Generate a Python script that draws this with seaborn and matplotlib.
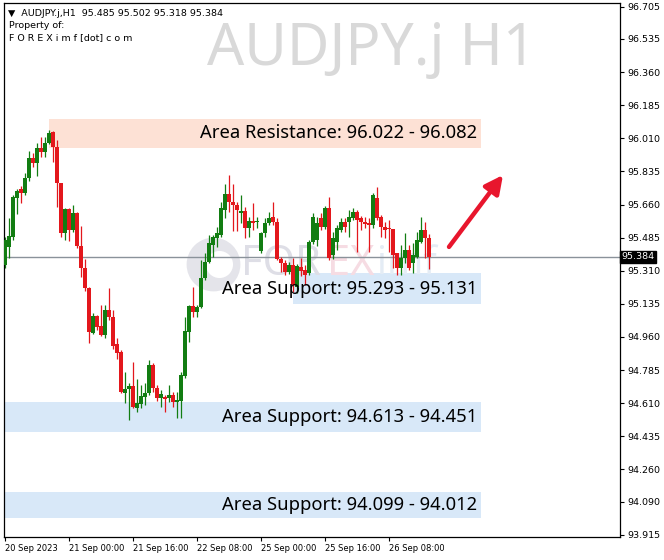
"""
AUDJPY.j H1 — velas con zonas de soporte / resistencia
"""

import numpy as np
import matplotlib
matplotlib.use("Agg")
import matplotlib.pyplot as plt
import seaborn as sns


# ─────────────────────────────────────────────
# DATOS
# ─────────────────────────────────────────────
APERTURA = [
    95.340, 95.436, 95.488, 95.694, 95.742, 95.721, 95.800, 95.906, 95.879, 95.959,
    95.937, 95.985, 96.043, 95.964, 95.774, 95.509, 95.636, 95.525, 95.615, 95.441,
    95.325, 95.219, 94.981, 95.071, 95.018, 94.971, 95.103, 95.066, 94.923, 94.881,
    94.664, 94.685, 94.701, 94.585, 94.606, 94.643, 94.664, 94.812, 94.691, 94.638,
    94.643, 94.638, 94.654, 94.617, 94.622, 94.754, 94.986, 95.124, 95.092, 95.119,
    95.272, 95.356, 95.446, 95.483, 95.499, 95.631, 95.716, 95.673, 95.657, 95.615,
    95.626, 95.536, 95.573, 95.568, 95.414, 95.509, 95.562, 95.594, 95.568, 95.372,
    95.351, 95.303, 95.340, 95.224, 95.330, 95.314, 95.298, 95.462, 95.472, 95.589,
    95.541, 95.642, 95.393, 95.462, 95.525, 95.568, 95.568, 95.589, 95.620, 95.589,
    95.568, 95.562, 95.552, 95.694, 95.594, 95.541, 95.536, 95.531, 95.404, 95.325,
    95.377, 95.420, 95.351, 95.383, 95.462, 95.525, 95.485,
]
MAXIMO = [
    95.488, 95.589, 95.710, 95.742, 95.758, 95.826, 95.943, 95.932, 95.985, 96.017,
    96.017, 96.054, 96.048, 96.001, 95.776, 95.642, 95.642, 95.657, 95.620, 95.546,
    95.372, 95.224, 95.087, 95.076, 95.129, 95.129, 95.219, 95.103, 94.955, 94.891,
    94.775, 94.717, 94.828, 94.738, 94.706, 94.717, 94.839, 94.823, 94.706, 94.680,
    94.654, 94.706, 94.669, 94.669, 94.775, 95.066, 95.129, 95.224, 95.129, 95.367,
    95.404, 95.499, 95.499, 95.541, 95.673, 95.768, 95.816, 95.768, 95.673, 95.710,
    95.647, 95.594, 95.668, 95.594, 95.515, 95.589, 95.620, 95.673, 95.589, 95.383,
    95.367, 95.356, 95.377, 95.346, 95.377, 95.340, 95.472, 95.615, 95.594, 95.615,
    95.652, 95.700, 95.515, 95.552, 95.589, 95.589, 95.631, 95.642, 95.631, 95.599,
    95.594, 95.589, 95.721, 95.752, 95.605, 95.568, 95.578, 95.531, 95.404, 95.446,
    95.509, 95.446, 95.457, 95.515, 95.594, 95.568, 95.502,
]
MINIMO = [
    95.325, 95.377, 95.472, 95.610, 95.668, 95.710, 95.784, 95.858, 95.811, 95.911,
    95.911, 95.980, 95.885, 95.647, 95.488, 95.472, 95.467, 95.515, 95.430, 95.277,
    95.203, 94.928, 94.976, 94.997, 94.965, 94.955, 95.050, 94.897, 94.844, 94.664,
    94.611, 94.522, 94.585, 94.564, 94.585, 94.601, 94.654, 94.669, 94.622, 94.590,
    94.564, 94.617, 94.590, 94.532, 94.532, 94.743, 94.934, 95.066, 95.066, 95.113,
    95.261, 95.351, 95.383, 95.436, 95.488, 95.589, 95.620, 95.520, 95.520, 95.562,
    95.483, 95.488, 95.525, 95.536, 95.404, 95.488, 95.552, 95.552, 95.367, 95.303,
    95.288, 95.293, 95.198, 95.192, 95.282, 95.235, 95.288, 95.451, 95.441, 95.525,
    95.531, 95.367, 95.372, 95.420, 95.515, 95.515, 95.488, 95.578, 95.409, 95.525,
    95.536, 95.409, 95.536, 95.578, 95.488, 95.483, 95.409, 95.325, 95.288, 95.288,
    95.351, 95.314, 95.298, 95.377, 95.457, 95.377, 95.318,
]
CIERRE = [
    95.472, 95.494, 95.700, 95.731, 95.721, 95.800, 95.906, 95.879, 95.959, 95.937,
    95.985, 96.038, 95.964, 95.774, 95.509, 95.636, 95.525, 95.615, 95.441, 95.325,
    95.219, 94.986, 95.071, 95.013, 94.971, 95.103, 95.066, 94.912, 94.875, 94.669,
    94.685, 94.701, 94.590, 94.611, 94.648, 94.664, 94.812, 94.691, 94.638, 94.659,
    94.632, 94.654, 94.617, 94.627, 94.759, 94.992, 95.124, 95.092, 95.119, 95.272,
    95.356, 95.457, 95.488, 95.509, 95.642, 95.716, 95.673, 95.657, 95.631, 95.626,
    95.536, 95.573, 95.562, 95.573, 95.509, 95.562, 95.589, 95.568, 95.372, 95.351,
    95.303, 95.340, 95.235, 95.335, 95.309, 95.288, 95.462, 95.594, 95.562, 95.541,
    95.642, 95.377, 95.483, 95.536, 95.568, 95.541, 95.594, 95.620, 95.578, 95.568,
    95.557, 95.552, 95.710, 95.589, 95.541, 95.525, 95.531, 95.393, 95.325, 95.377,
    95.420, 95.325, 95.393, 95.472, 95.525, 95.483, 95.384,
]

PRECIO_ACTUAL = 95.384

ETIQUETAS_X = ["20 Sep 2023", "21 Sep 00:00", "21 Sep 16:00", "22 Sep 08:00",
               "25 Sep 00:00", "25 Sep 16:00", "26 Sep 08:00"]
POS_X = [0, 16, 32, 48, 64, 80, 96]

TICKS_Y = [96.705, 96.535, 96.360, 96.185, 96.010, 95.835, 95.660, 95.485, 95.310,
           95.135, 94.960, 94.785, 94.610, 94.435, 94.260, 94.090, 93.915]

ZONA_TEXTO = ["Area Resistance: 96.022 - 96.082", "Area Support: 95.293 - 95.131",
              "Area Support: 94.613 - 94.451", "Area Support: 94.099 - 94.012"]
ZONA_ARRIBA = [96.112, 95.298, 94.617, 94.141]
ZONA_ABAJO = [95.959, 95.134, 94.458, 94.004]
ZONA_INICIO = [11, 72, -1, -1]
ZONA_FIN = 119
ZONA_COLOR = ["#fde1d5", "#d8e8f8", "#d8e8f8", "#d8e8f8"]

VERDE = "#127d12"
ROJO = "#e3171c"


# ─────────────────────────────────────────────
# FIGURA
# ─────────────────────────────────────────────
sns.set_theme(style="white")
plt.rcParams["font.family"] = ["DejaVu Sans"]

fig = plt.figure(figsize=(6.64, 5.6), dpi=100)
ax = fig.add_axes([4 / 664, 1 - 537 / 560, 616 / 664, 534 / 560])

n = len(APERTURA)
x = np.arange(n)
o = np.array(APERTURA)
h = np.array(MAXIMO)
l = np.array(MINIMO)
c = np.array(CIERRE)
sube = c >= o
colores = np.where(sube, VERDE, ROJO)

# zonas
for top, bot, ini, col in zip(ZONA_ARRIBA, ZONA_ABAJO, ZONA_INICIO, ZONA_COLOR):
    ax.fill_between([ini, ZONA_FIN], bot, top, color=col, lw=0, zorder=0)

# marca de agua FOREXimf (logo tenue)
ax.scatter([52], [95.345], s=1500, color="#e4e4ea", lw=0, zorder=0.5)
ax.scatter([53.5], [95.345], s=380, color="white", lw=0, zorder=0.6)
ax.text(59, 95.345, "FOR", fontsize=30, fontweight="bold", color="#dedee6",
        va="center", ha="left", family="Noto Sans", zorder=0.5)
ax.text(80.5, 95.345, "EX", fontsize=30, fontweight="bold", color="#f6dce3",
        va="center", ha="left", family="Noto Sans", zorder=0.5)
ax.text(93, 95.345, "imf", fontsize=28, fontweight="bold", color="#e4ecf5",
        va="center", ha="left", family="Noto Sans", zorder=0.5)

# línea de precio actual
ax.axhline(PRECIO_ACTUAL, color="#8a929a", lw=1, zorder=1)

# velas
ax.vlines(x, l, h, colors=colores, lw=0.9, zorder=2)
alto = np.maximum(np.abs(c - o), 0.002)
ax.bar(x, alto, bottom=np.minimum(o, c), width=0.78, color=colores, lw=0, zorder=3)

# textos de zonas
for txt, top, bot in zip(ZONA_TEXTO, ZONA_ARRIBA, ZONA_ABAJO):
    ax.text(118, (top + bot) / 2, txt, ha="right", va="center", fontsize=13.25,
            family="Noto Sans", color="black", zorder=4)

# flecha roja
ax.annotate("", xy=(124.5, 95.816), xytext=(111, 95.436),
            arrowprops=dict(arrowstyle="-|>,head_length=0.9,head_width=0.45",
                            color="#e8162d", lw=3.2, shrinkA=0, shrinkB=0), zorder=5)

# ejes
ax.set_xlim(-0.25, 153.75)
ax.set_ylim(93.903, 96.725)
ax.yaxis.tick_right()
ax.set_yticks(TICKS_Y)
ax.set_yticklabels([f"{v:.3f}" for v in TICKS_Y])
ax.set_xticks(POS_X)
ax.set_xticklabels(ETIQUETAS_X, ha="left")
ax.tick_params(axis="y", direction="out", length=3, width=0.8, labelsize=6.8,
               pad=2, colors="black", right=True)
ax.tick_params(axis="x", direction="out", length=3, width=0.8, labelsize=6.0,
               pad=2, colors="black", bottom=True)
for sp in ax.spines.values():
    sp.set_color("black")
    sp.set_linewidth(0.9)
ax.grid(False)

# etiqueta del precio actual
ax.text(1.003, PRECIO_ACTUAL, f"{PRECIO_ACTUAL:.3f}", transform=ax.get_yaxis_transform(),
        ha="left", va="center", fontsize=6.8, color="white",
        bbox=dict(boxstyle="square,pad=0.15", fc="black", ec="black"), zorder=6,
        clip_on=False)

# textos de cabecera
fig.text(8 / 664, 1 - 13 / 560, "▼  AUDJPY.j,H1  95.485 95.502 95.318 95.384",
         fontsize=6.8, color="black", va="center")
fig.text(9 / 664, 1 - 25 / 560, "Property of:", fontsize=6.8, color="black", va="center")
fig.text(9 / 664, 1 - 38 / 560, "F O R E X i m f [dot] c o m", fontsize=6.8,
         color="black", va="center")
fig.text(207 / 664, 1 - 65 / 560, "AUDJPY.j H1", fontsize=42, color="#d9d9d9",
         family="Noto Sans", va="baseline", ha="left")

fig.savefig("out.png", dpi=100)
plt.close(fig)
